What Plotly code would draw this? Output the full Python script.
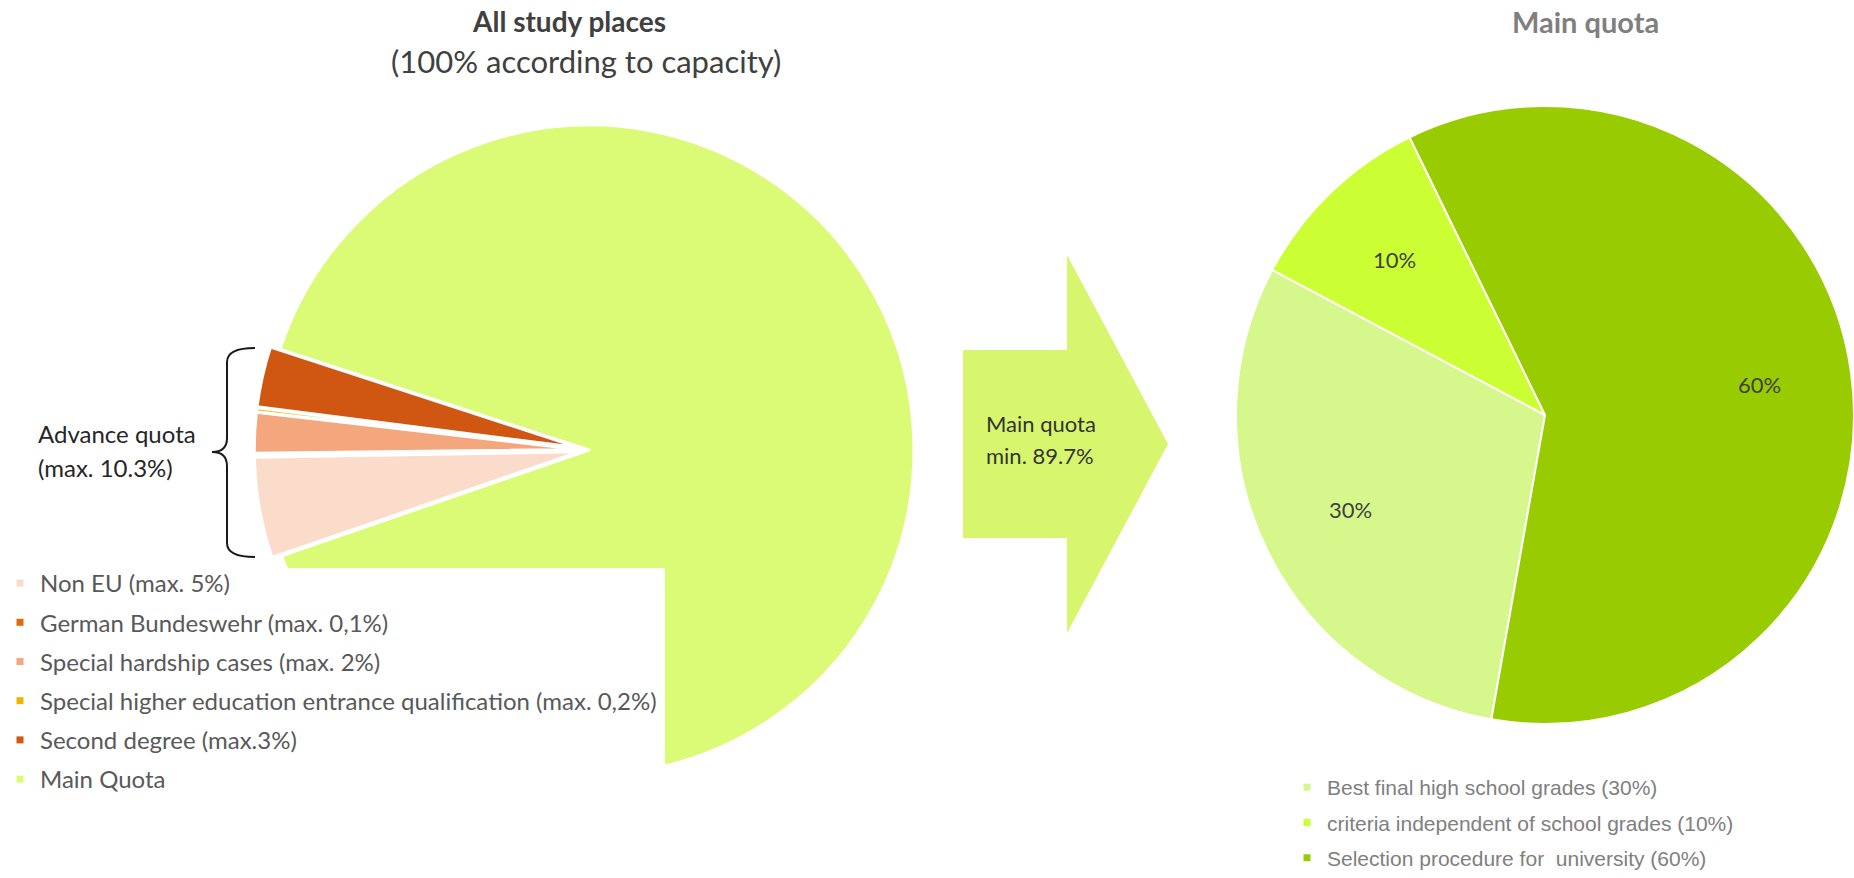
import math
import plotly.graph_objects as go

W, H = 1854, 878

# Left pie: all study places (shares in %)
all_labels = [
    "Non EU (max. 5%)",
    "German Bundeswehr (max. 0,1%)",
    "Special hardship cases (max. 2%)",
    "Special higher education entrance qualification (max. 0,2%)",
    "Second degree (max.3%)",
    "Main Quota",
]
all_values = [5.0, 0.1, 2.0, 0.2, 3.0, 89.7]
all_colors = ["#fbdccb", "#e36c0a", "#f4a67c", "#f0b400", "#cf5711", "#dbfa75"]
all_pull = [0.03, 0.03, 0.03, 0.03, 0.03, 0.0]

# Right pie: breakdown of the main quota (shares in %)
main_labels = [
    "Best final high school grades (30%)",
    "criteria independent of school grades (10%)",
    "Selection procedure for  university (60%)",
]
main_values = [30, 10, 60]
main_colors = ["#d6f78c", "#ccff33", "#99cc00"]

main_share = all_values[all_labels.index("Main Quota")]


def px(x):
    return x / W


def py(y):
    return 1 - y / H


# pie geometry in pixels (centre x, centre y, radius)
LEFT = (589, 450, 325)
RIGHT = (1545, 415, 309)
RIGHT_ROTATION = 190


def domain(cx, cy, r, pull=0.0):
    half = r * (1 + pull)
    return dict(x=[max(px(cx - half), 0), min(px(cx + half), 1)],
                y=[max(py(cy + half), 0), min(py(cy - half), 1)])


fig = go.Figure()

fig.add_trace(go.Pie(
    labels=all_labels, values=all_values, sort=False,
    direction="clockwise", rotation=251, pull=all_pull,
    marker=dict(colors=all_colors, line=dict(color="white", width=3)),
    textinfo="none", hoverinfo="label+percent", showlegend=False,
    domain=domain(*LEFT, pull=max(all_pull)),
))

fig.add_trace(go.Pie(
    labels=main_labels, values=main_values, sort=False,
    direction="clockwise", rotation=RIGHT_ROTATION,
    marker=dict(colors=main_colors, line=dict(color="white", width=2)),
    textinfo="none", hoverinfo="label+percent", showlegend=False,
    domain=domain(*RIGHT),
))

# Legend entries for both pies
for lab, col in zip(all_labels, all_colors):
    fig.add_trace(go.Scatter(
        x=[None], y=[None], mode="markers", name=lab, legend="legend",
        legendgroup=lab, marker=dict(symbol="square", size=7, color=col),
    ))
for lab, col in zip(main_labels, main_colors):
    fig.add_trace(go.Scatter(
        x=[None], y=[None], mode="markers", name=lab, legend="legend2",
        legendgroup=lab, marker=dict(symbol="square", size=7, color=col),
    ))

shapes = [
    # white panel behind the left legend
    dict(type="rect", xref="paper", yref="paper", layer="above",
         x0=px(0), x1=px(665), y0=py(878), y1=py(568),
         fillcolor="white", line=dict(width=0)),
    # block arrow
    dict(type="path", xref="paper", yref="paper", layer="below",
         path=("M {0},{1} L {2},{1} L {2},{3} L {4},{5} L {2},{6} L {2},{7} L {0},{7} Z"
               .format(px(963), py(350), px(1067), py(255), px(1168), py(444),
                       py(633), py(538))),
         fillcolor="#d7f66e", line=dict(width=0)),
    # curly brace around the advance quota slices
    dict(type="path", xref="paper", yref="paper", layer="above",
         path=("M {a},{t} Q {v},{t} {v},{t2} L {v},{m1} Q {v},{m} {tip},{m} "
               "Q {v},{m} {v},{m2} L {v},{b2} Q {v},{b} {a},{b}")
         .format(a=px(255), v=px(227), tip=px(212), t=py(348), t2=py(362),
                 m1=py(438), m=py(452), m2=py(466), b2=py(543), b=py(557)),
         line=dict(color="#1a1a1a", width=2)),
]

annotations = [
    dict(text="<b>All study places</b>", x=px(569), y=py(21),
         font=dict(family="Lato", size=28, color="#404040")),
    dict(text="(100% according to capacity)", x=px(586), y=py(61),
         font=dict(family="Lato", size=31, color="#404040")),
    dict(text="<b>Main quota</b>", x=px(1585), y=py(21),
         font=dict(family="Lato", size=29, color="#7f7f7f")),
    dict(text="Advance quota", x=px(36), y=py(433), xanchor="left",
         font=dict(family="Lato", size=24, color="#262626")),
    dict(text="(max. 10.3%)", x=px(36), y=py(467), xanchor="left",
         font=dict(family="Lato", size=24, color="#262626")),
    dict(text="Main quota", x=px(984), y=py(424), xanchor="left",
         font=dict(family="Lato", size=22, color="#333333")),
    dict(text=f"min. {main_share}%", x=px(984), y=py(455), xanchor="left",
         font=dict(family="Lato", size=22, color="#333333")),
]

# percentage labels of the right pie, placed along each slice's middle angle
cx, cy, r = RIGHT
total = sum(main_values)
cum = 0
for v in main_values:
    ang = math.radians(RIGHT_ROTATION + 360 * (cum + v / 2) / total)
    cum += v
    lx = cx + 0.7 * r * math.sin(ang)
    ly = cy - 0.7 * r * math.cos(ang)
    annotations.append(dict(text=f"{round(100 * v / total)}%", x=px(lx), y=py(ly),
                            font=dict(family="Lato", size=22, color="#404040")))

for a in annotations:
    a.update(xref="paper", yref="paper", showarrow=False)
    a.setdefault("xanchor", "center")
    a.setdefault("yanchor", "middle")

fig.update_layout(
    width=W, height=H,
    margin=dict(l=0, r=0, t=0, b=0, autoexpand=False),
    paper_bgcolor="white", plot_bgcolor="rgba(0,0,0,0)",
    xaxis=dict(visible=False), yaxis=dict(visible=False),
    shapes=shapes, annotations=annotations,
    legend=dict(x=0, y=py(561), xanchor="left", yanchor="top",
                traceorder="grouped", tracegroupgap=5,
                bgcolor="rgba(0,0,0,0)",
                font=dict(family="Lato", size=24, color="#595959")),
    legend2=dict(x=px(1287), y=0, xanchor="left", yanchor="bottom",
                 traceorder="grouped", tracegroupgap=5,
                 bgcolor="rgba(0,0,0,0)",
                 font=dict(family="Liberation Sans", size=21, color="#808080")),
)

fig.write_html("out.html")
